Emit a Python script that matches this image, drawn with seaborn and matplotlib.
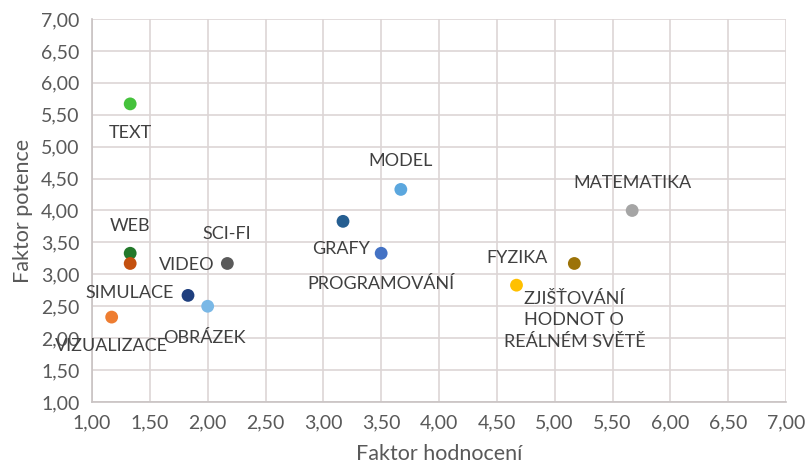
import pandas as pd
import numpy as np
import matplotlib.pyplot as plt
import seaborn as sns

labels = ['TEXT', 'WEB', 'VIDEO', 'SCI-FI', 'SIMULACE', 'VIZUALIZACE', 'OBRÁZEK',
          'GRAFY', 'PROGRAMOVÁNÍ', 'MODEL', 'MATEMATIKA', 'FYZIKA',
          'ZJIŠŤOVÁNÍ\nHODNOT O\nREÁLNÉM SVĚTĚ']
hodnoceni = [1.33, 1.33, 1.33, 2.17, 1.83, 1.17, 2.00, 3.17, 3.50, 3.67, 5.67, 4.67, 5.17]
potence = [5.67, 3.33, 3.17, 3.17, 2.67, 2.33, 2.50, 3.83, 3.33, 4.33, 4.00, 2.83, 3.17]
colors = ['#45c23c', '#23782a', '#c4500f', '#5a5a5a', '#1f3f7e', '#ee7d31', '#7ab8e6',
          '#255e91', '#4472c4', '#5ba7de', '#a5a5a5', '#ffc000', '#9c7308']

df = pd.DataFrame({'label': labels, 'x': hodnoceni, 'y': potence})

# label offsets in pixels (dx, dy), placed like in the excel chart
offsets = [(0, -29), (0, 27), (57, -2), (-1, 29), (-58, 2), (0, -29), (-3, -32),
           (-2, -28), (0, -31), (0, 28), (0, 27), (0, 27), (0, -57)]

sns.set_style('white')
plt.rcParams['font.family'] = ['Lato', 'DejaVu Sans']

fig = plt.figure(figsize=(8.05, 4.71), dpi=100)
ax = fig.add_axes([0.1143, 0.1465, 0.8621, 0.8132])

sns.scatterplot(data=df, x='x', y='y', hue='label', palette=dict(zip(labels, colors)),
                s=85, edgecolor='none', legend=False, ax=ax, zorder=3)

for (lab, x, y), (dx, dy) in zip(zip(labels, hodnoceni, potence), offsets):
    ax.annotate(lab, (x, y), xytext=(dx * 0.72, dy * 0.72), textcoords='offset points',
                ha='center', va='center', fontsize=13, color='#404040',
                linespacing=1.45, zorder=4)

ticks = np.arange(1, 7.01, 0.5)
ax.set_xlim(1, 7)
ax.set_ylim(1, 7)
ax.set_xticks(ticks)
ax.set_yticks(ticks)
ax.set_xticklabels([f'{t:.2f}'.replace('.', ',') for t in ticks])
ax.set_yticklabels([f'{t:.2f}'.replace('.', ',') for t in ticks])
ax.tick_params(labelsize=14, colors='#595959', length=0, pad=9)
ax.grid(True, color='#ddd5d5', linewidth=1.2)
for side in ['top', 'right']:
    ax.spines[side].set_visible(False)
for side in ['left', 'bottom']:
    ax.spines[side].set_color('#c8c2c2')
    ax.spines[side].set_linewidth(1.2)

ax.set_xlabel('Faktor hodnocení', fontsize=15.5, color='#595959', labelpad=9)
ax.set_ylabel('Faktor potence', fontsize=15.5, color='#595959', labelpad=6)

fig.savefig('out.png', dpi=100)
